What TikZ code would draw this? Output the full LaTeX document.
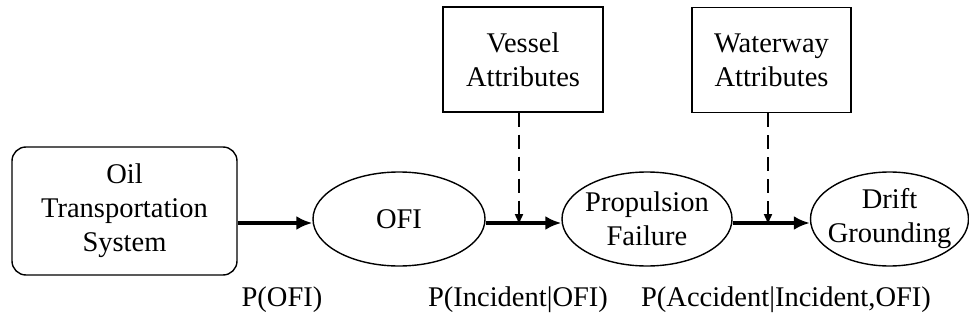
\documentclass[tikz,border=0pt]{standalone}
\usepackage{fontspec}
\setmainfont{Liberation Serif}
\usetikzlibrary{shapes.geometric,arrows.meta}

\begin{document}
\begin{tikzpicture}[x=1pt,y=-1pt,
  every node/.style={font=\fontsize{28.5}{34}\selectfont, align=center},
  sysbox/.style={draw, line width=1.4pt, rounded corners=14pt,
    minimum width=225pt, minimum height=128pt, inner sep=0pt},
  attrbox/.style={draw, line width=1.4pt, minimum width=160pt,
    minimum height=105pt, inner sep=0pt},
  event/.style={draw, ellipse, line width=1.4pt, inner xsep=-8pt,
    inner ysep=0pt, minimum height=94pt},
  flow/.style={line width=3.4pt, -{Latex[length=16pt,width=14pt]}},
  influence/.style={line width=1.4pt, dash pattern=on 14pt off 8pt,
    -{Latex[length=11pt,width=9pt]}},
  prob/.style={inner sep=0pt}]
\useasboundingbox (0,0) rectangle (969,329);

% main chain of events
\node[sysbox] (tsys) at (124.5,211) {Oil\\Transportation\\System};
\node[event, minimum width=172pt] (ofi) at (399,219) {OFI};
\node[event, minimum width=170pt] (prop) at (647,219) {Propulsion\\Failure};
\node[event, minimum width=158pt] (drift) at (889.5,219) {Drift\\Grounding};

% attribute boxes feeding the transitions
\node[attrbox] (vessel) at (523,59.5) {Vessel\\Attributes};
\node[attrbox, minimum width=159pt] (waterway) at (771.5,60) {Waterway\\Attributes};

% junctions where the attributes act on the transitions
\coordinate (vj) at (519,223);
\coordinate (wj) at (768,223);

% transitions
\draw[flow] (tsys.east |- vj) -- (ofi.west |- vj);
\draw[flow] (ofi.east |- vj) -- (prop.west |- vj);
\draw[flow] (prop.east |- wj) -- (drift.west |- wj);

% attribute influences
\draw[influence] (vessel.south -| vj) -- ([yshift=-2pt]vj);
\draw[influence] (waterway.south -| wj) -- ([yshift=-2pt]wj);

% probabilities of each stage
\node[prob] (p1) at (282,300) {P(OFI)};
\node[prob] (p2) at (518,300) {P(Incident|OFI)};
\node[prob] (p3) at (786,300) {P(Accident|Incident,OFI)};
\end{tikzpicture}
\end{document}
